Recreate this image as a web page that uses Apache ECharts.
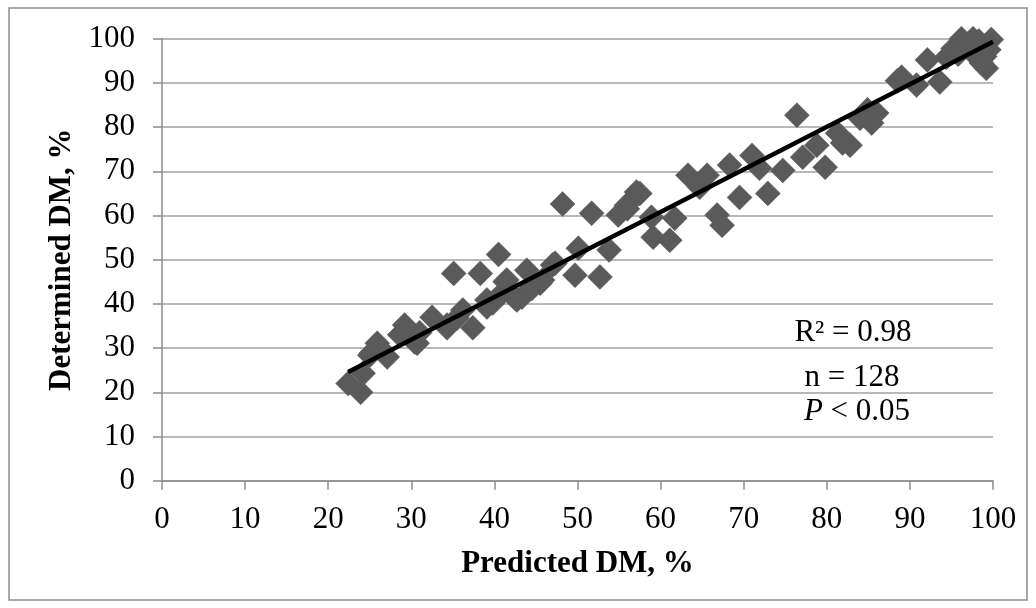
<!DOCTYPE html>
<html><head><meta charset="utf-8">
<script src="https://cdn.jsdelivr.net/npm/echarts@6/dist/echarts.min.js"></script>
<style>html,body{margin:0;padding:0;background:#fff}#c{width:1036px;height:608px}</style>
</head><body><div id="c"></div>
<script>
// Predicted DM, % (x) and Determined DM, % (y)
const predicted = [22.4,23.9,24.2,25.9,27.1,25.2,29.2,30.4,28.6,32.5,34.3,35.1,38.3,40.5,37.4,36.2,35.5,39.1,40.9,41.5,42.7,43.9,45.8,
  48.2,51.7,54.9,55.9,57.1,50.1,53.8,49.7,52.7,47.0,45.5,43.3,58.9,59.1,61.1,61.7,63.3,65.6,64.7,66.8,67.4,68.3,69.5,71.0,71.9,72.9,
  76.4,74.7,77.1,78.8,79.8,81.3,82.8,81.9,84.9,86.0,85.4,89.0,90.8,92.1,93.6,95.2,96.2,97.6,99.2,99.8,99.5,94.4,97.6,98.6,
  57.5,56.0,84.0,88.5,96.8,98.3,99.0,95.8,44.5,26.5,31.0,39.1,39.8,47.3,41.3,42.5,25.0,34.3,30.7];
const determined = [22.0,20.0,24.3,31.1,28.0,28.9,35.2,31.4,33.0,37.0,34.6,46.9,46.9,51.2,34.6,38.6,36.8,40.9,42.4,45.4,40.9,47.6,45.4,
  62.6,60.5,60.1,62.3,65.3,52.6,52.2,46.5,46.1,48.8,44.7,41.5,59.6,55.1,54.4,59.4,69.1,69.1,66.4,60.1,57.8,71.4,64.1,73.6,70.7,65.0,
  82.7,70.2,73.2,75.9,70.9,78.6,75.9,76.4,83.9,83.2,80.9,91.3,89.5,95.2,90.2,97.8,100.0,100.0,93.3,99.8,97.5,95.8,96.7,94.5,
  65.0,61.5,82.0,90.5,98.5,99.5,96.0,96.5,43.5,29.5,33.5,39.3,40.2,49.2,45.0,41.3,28.4,35.2,31.1];
// Linear trend line end points
const trendX = [22.4, 100];
const trendY = [24.6, 99.3];
const axisMin = 0, axisMax = 100, axisStep = 10;
const notes = ['R\u00B2 = 0.98', 'n = 128', '{i|P} < 0.05'];

const serif = "'Liberation Serif','Times New Roman',serif";
const points = predicted.map((x, i) => [x, determined[i]]);
const trend = trendX.map((x, i) => [x, trendY[i]]);

const chart = echarts.init(document.getElementById('c'), null, {renderer: 'canvas'});
chart.setOption({
  animation: false,
  backgroundColor: '#fff',
  grid: {left: 162, right: 43, top: 38.7, bottom: 127.3, containLabel: false},
  xAxis: {
    type: 'value', min: axisMin, max: axisMax, interval: axisStep,
    name: 'Predicted DM, %', nameLocation: 'middle', nameGap: 68,
    nameTextStyle: {fontFamily: serif, fontSize: 31, fontWeight: 'bold', color: '#000'},
    axisLine: {show: true, lineStyle: {color: '#8c8c8c', width: 1.5}},
    axisTick: {show: true, inside: false, length: 9, lineStyle: {color: '#8c8c8c', width: 1.5}},
    axisLabel: {fontFamily: serif, fontSize: 31, color: '#000', margin: 24},
    splitLine: {show: false}
  },
  yAxis: {
    type: 'value', min: axisMin, max: axisMax, interval: axisStep,
    name: 'Determined DM, %', nameLocation: 'middle', nameGap: 84,
    nameTextStyle: {fontFamily: serif, fontSize: 31, fontWeight: 'bold', color: '#000'},
    axisLine: {show: true, lineStyle: {color: '#8c8c8c', width: 1.5}},
    axisTick: {show: true, inside: false, length: 9, lineStyle: {color: '#8c8c8c', width: 1.5}},
    axisLabel: {fontFamily: serif, fontSize: 31, color: '#000', margin: 27},
    splitLine: {show: true, lineStyle: {color: '#a0a0a0', width: 1.5}}
  },
  graphic: [
    {type: 'rect', shape: {x: 9, y: 8, width: 1018, height: 592}, style: {fill: 'none', stroke: '#8c8c8c', lineWidth: 1.5}, silent: true, z: -1},
    {type: 'text', x: 853, y: 333, style: {text: notes[0], font: '31px ' + serif, fill: '#000', textAlign: 'center', textVerticalAlign: 'middle'}},
    {type: 'text', x: 852, y: 378, style: {text: notes[1], font: '31px ' + serif, fill: '#000', textAlign: 'center', textVerticalAlign: 'middle'}},
    {type: 'text', x: 857, y: 412, style: {text: notes[2], font: '31px ' + serif, fill: '#000', textAlign: 'center', textVerticalAlign: 'middle',
      rich: {i: {fontStyle: 'italic', fontFamily: serif, fontSize: 31}}}}
  ],
  series: [
    {type: 'scatter', data: points, symbol: 'diamond', symbolSize: 25,
      itemStyle: {color: '#5a5a5a', opacity: 1, borderColor: '#5a5a5a', borderWidth: 0.5}, z: 2},
    {type: 'line', data: trend, showSymbol: false, symbol: 'none',
      lineStyle: {color: '#000', width: 4.5}, z: 3}
  ]
});
</script></body></html>
